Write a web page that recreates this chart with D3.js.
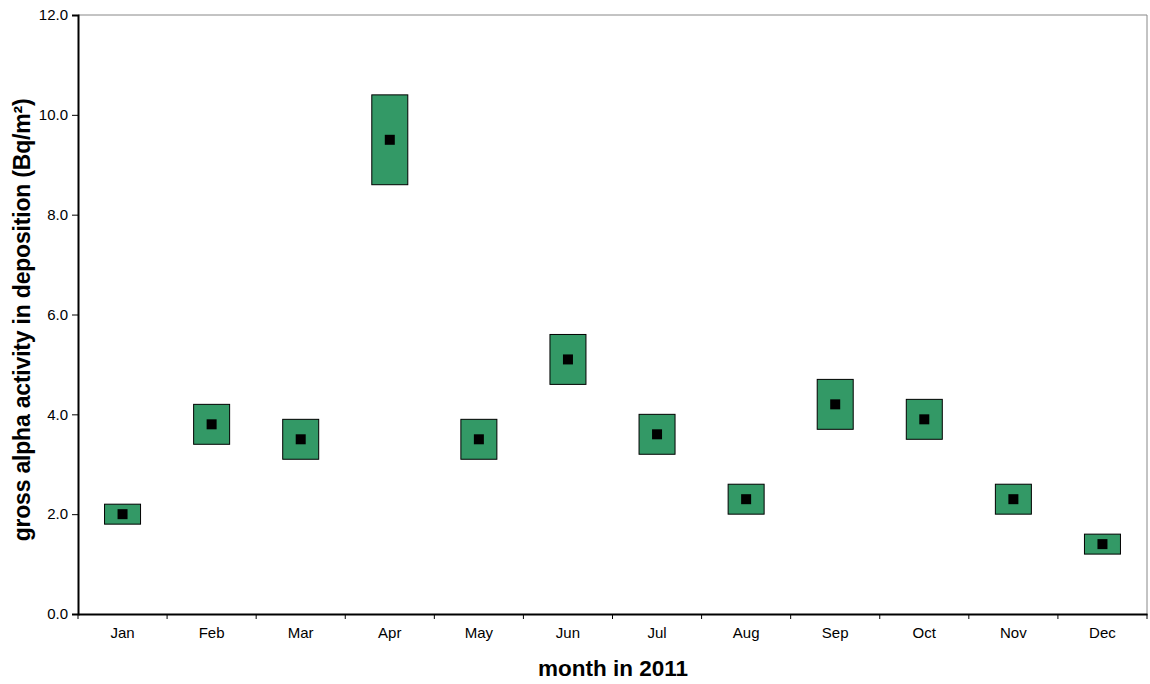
<!DOCTYPE html>
<html><head><meta charset="utf-8">
<script src="https://cdn.jsdelivr.net/npm/d3@7"></script>
<style>body{margin:0;background:#fff}svg{display:block;font-family:"Liberation Sans",Arial,sans-serif}</style>
</head><body>
<svg id="c" width="1150" height="684"></svg>
<script>
const months = ["Jan","Feb","Mar","Apr","May","Jun","Jul","Aug","Sep","Oct","Nov","Dec"];
const lowValues  = [1.8, 3.4, 3.1, 8.6, 3.1, 4.6, 3.2, 2.0, 3.7, 3.5, 2.0, 1.2];
const highValues = [2.2, 4.2, 3.9, 10.4, 3.9, 5.6, 4.0, 2.6, 4.7, 4.3, 2.6, 1.6];
const midValues  = [2.0, 3.8, 3.5, 9.5, 3.5, 5.1, 3.6, 2.3, 4.2, 3.9, 2.3, 1.4];
const yTicks = [0, 2, 4, 6, 8, 10, 12];

const svg = d3.select("#c");
const L = 78, R = 1147, T = 15, B = 614;
const x = d3.scaleBand().domain(months).range([L, R]);
const y = d3.scaleLinear().domain([0, 12]).range([B, T]);

// frame top/right grey
svg.append("line").attr("x1", L).attr("x2", R).attr("y1", T).attr("y2", T).attr("stroke", "#888").attr("stroke-width", 1);
svg.append("line").attr("x1", R).attr("x2", R).attr("y1", T).attr("y2", B).attr("stroke", "#888").attr("stroke-width", 1);

// y axis
const ya = svg.append("g").attr("transform", `translate(${L},0)`)
  .call(d3.axisLeft(y).tickValues(yTicks).tickFormat(d3.format(".1f")).tickSize(6).tickPadding(4));
ya.select(".domain").attr("stroke", "#000").attr("stroke-width", 2);
ya.selectAll(".tick line").attr("stroke", "#000");
ya.selectAll("text").attr("font-size", 15).attr("fill", "#000").attr("font-family", "Liberation Sans, Arial, sans-serif");

// x axis
const xa = svg.append("g").attr("transform", `translate(0,${B})`)
  .call(d3.axisBottom(x).tickSize(0).tickPadding(13));
xa.select(".domain").attr("stroke", "#000").attr("stroke-width", 2);
xa.selectAll("text").attr("font-size", 15).attr("fill", "#000").attr("font-family", "Liberation Sans, Arial, sans-serif");
// boundary ticks
const bounds = months.map(m => x(m)).concat([x(months[months.length-1]) + x.bandwidth()]);
svg.append("g").selectAll("line").data(bounds).join("line")
  .attr("x1", d => d).attr("x2", d => d).attr("y1", B).attr("y2", B + 5)
  .attr("stroke", "#000").attr("stroke-width", 1);

// boxes
const bw = 36;
const g = svg.append("g");
months.forEach((m, i) => {
  const cx = x(m) + x.bandwidth() / 2;
  g.append("rect")
    .attr("x", cx - bw / 2).attr("width", bw)
    .attr("y", y(highValues[i])).attr("height", y(lowValues[i]) - y(highValues[i]))
    .attr("fill", "#339966").attr("stroke", "#000").attr("stroke-width", 1);
  g.append("rect")
    .attr("x", cx - 5).attr("y", y(midValues[i]) - 5).attr("width", 10).attr("height", 10)
    .attr("fill", "#000");
});

// titles
svg.append("text").attr("x", 613).attr("y", 676).attr("text-anchor", "middle")
  .attr("font-size", 22.5).attr("font-weight", "bold").text("month in 2011");
svg.append("text").attr("transform", `translate(30,320) rotate(-90)`).attr("text-anchor", "middle")
  .attr("font-size", 23).attr("font-weight", "bold").attr("letter-spacing", -0.2).text("gross alpha activity in deposition (Bq/m²)");
</script>
</body></html>
